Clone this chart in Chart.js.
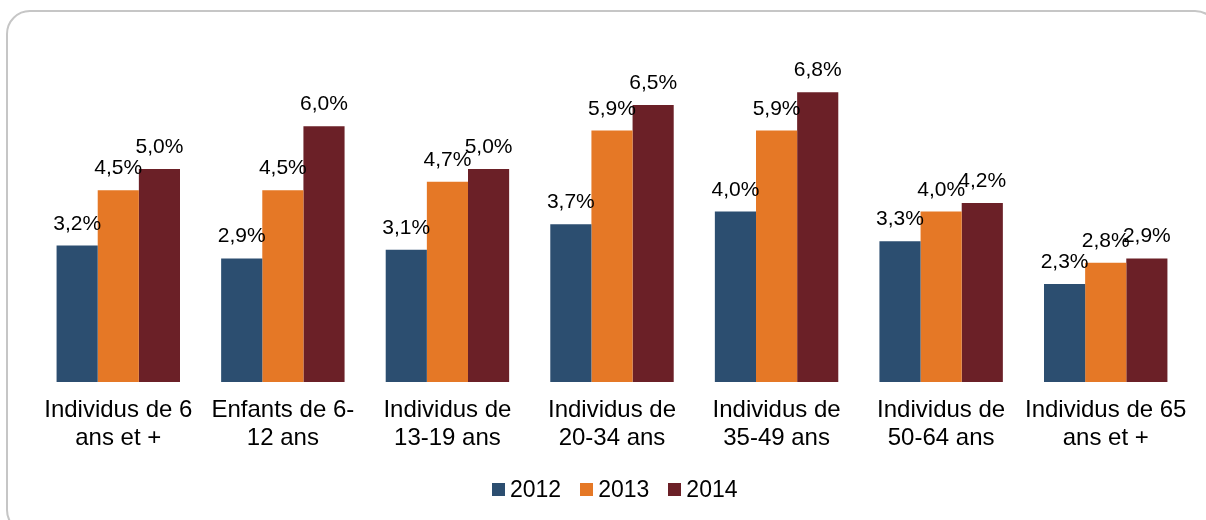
<!DOCTYPE html>
<html>
<head>
<meta charset="utf-8">
<script src="https://cdn.jsdelivr.net/npm/chart.js@4"></script>
<style>
  html, body { margin: 0; padding: 0; background: #fff; overflow: hidden; }
  body { width: 1206px; height: 520px; position: relative; font-family: "Liberation Sans", Arial, sans-serif; }
  #frame {
    position: absolute; left: 6px; top: 10px; width: 1209px; height: 520px;
    border: 2px solid #c6c6c6; border-radius: 24px; box-sizing: content-box;
  }
  #chart { position: absolute; left: 0; top: 0; }
  #legend {
    position: absolute; left: 492px; top: 475px; display: flex;
    font-size: 23px; line-height: 28px; color: #000; white-space: nowrap;
  }
  #legend .item { margin-right: 19px; }
  #legend .sw { display: inline-block; width: 13px; height: 13px; margin-right: 5px; position: relative; top: -1px; }
</style>
</head>
<body>
<div id="frame"></div>
<canvas id="chart" width="1206" height="520"></canvas>
<div id="legend"></div>
<script>
const categories = [
  ['Individus de 6', 'ans et +'],
  ['Enfants de 6-', '12 ans'],
  ['Individus de', '13-19 ans'],
  ['Individus de', '20-34 ans'],
  ['Individus de', '35-49 ans'],
  ['Individus de', '50-64 ans'],
  ['Individus de 65', 'ans et +'],
];
const years = ['2012', '2013', '2014'];
const values2012 = [3.2, 2.9, 3.1, 3.7, 4.0, 3.3, 2.3];
const values2013 = [4.5, 4.5, 4.7, 5.9, 5.9, 4.0, 2.8];
const values2014 = [5.0, 6.0, 5.0, 6.5, 6.8, 4.2, 2.9];
const colors = ['#2c4e70', '#e57826', '#6b2027'];

const FONT = '"Liberation Sans", Arial, sans-serif';

function fmtPct(v) {
  return v.toFixed(1).replace('.', ',') + '%';
}

// value labels above each bar
const barLabels = {
  id: 'barLabels',
  afterDatasetsDraw(chart) {
    const ctx = chart.ctx;
    ctx.save();
    ctx.font = '21px ' + FONT;
    ctx.fillStyle = '#000';
    ctx.textAlign = 'center';
    ctx.textBaseline = 'alphabetic';
    chart.data.datasets.forEach((ds, i) => {
      chart.getDatasetMeta(i).data.forEach((bar, j) => {
        ctx.fillText(fmtPct(ds.data[j]), bar.x, bar.y - 16);
      });
    });
    ctx.restore();
  }
};

const seriesData = [values2012, values2013, values2014];

new Chart(document.getElementById('chart'), {
  type: 'bar',
  data: {
    labels: categories,
    datasets: years.map((y, i) => ({
      label: y,
      data: seriesData[i],
      backgroundColor: colors[i],
      borderWidth: 0,
      categoryPercentage: 0.75,
      barPercentage: 1.0,
    }))
  },
  options: {
    responsive: false,
    animation: false,
    devicePixelRatio: 1,
    layout: { padding: { left: 36, right: 18, top: 41, bottom: 0 } },
    plugins: { legend: { display: false }, tooltip: { enabled: false } },
    scales: {
      y: { display: false, min: 0, max: 8 },
      x: {
        grid: { display: false, drawTicks: false },
        border: { display: false },
        ticks: {
          color: '#000',
          padding: 14,
          maxRotation: 0,
          autoSkip: false,
          font: { family: FONT, size: 24, lineHeight: 1.18 },
        },
        afterFit(axis) { axis.height = 138; },
      }
    }
  },
  plugins: [barLabels]
});

document.getElementById('legend').innerHTML = years.map((y, i) =>
  `<span class="item"><span class="sw" style="background:${colors[i]}"></span>${y}</span>`
).join('');
</script>
</body>
</html>
